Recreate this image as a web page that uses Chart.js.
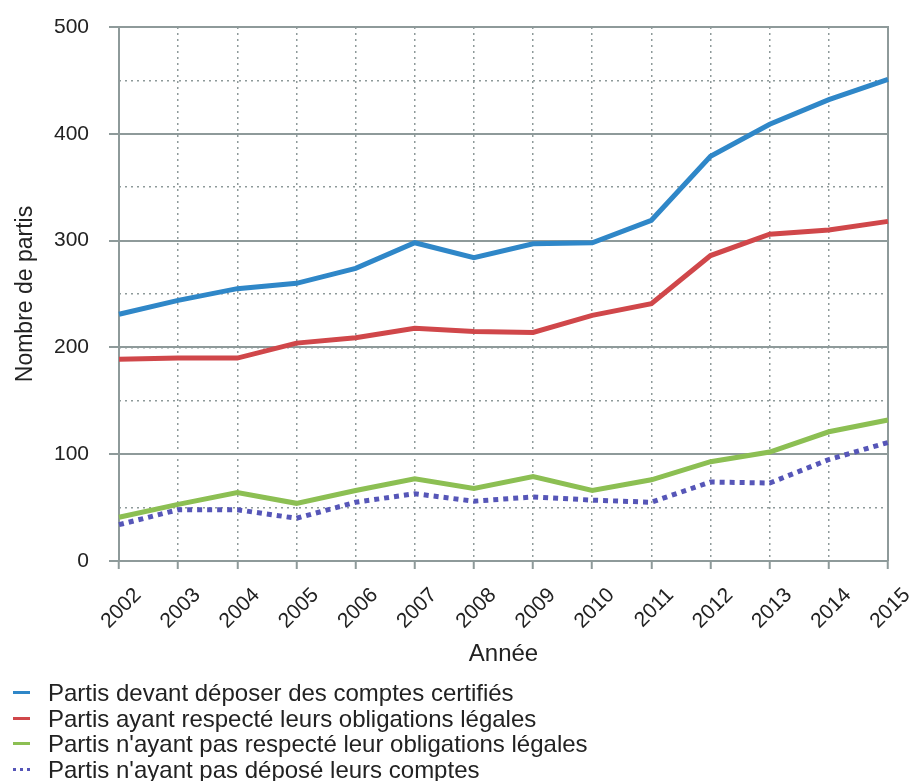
<!DOCTYPE html>
<html lang="fr">
<head>
<meta charset="UTF-8" />
<title>Nombre de partis</title>
<script src="https://cdn.jsdelivr.net/npm/chart.js"></script>
<style>
  body { margin: 0; background: #fff; font-family: "Liberation Sans", Arial, sans-serif; }
  .wrap { position: relative; width: 909px; height: 781px; overflow: hidden; }
  .chart-box { position: absolute; left: 0; top: 0; width: 909px; height: 680px; }
  #legend { position: absolute; left: 13px; top: 680px; font-size: 24px; line-height: 25.5px; color: #222; }
  #legend .item { display: flex; align-items: center; white-space: nowrap; }
  #legend .mark { width: 17px; height: 0; margin-right: 18px; border-top-width: 3px; }
</style>
</head>
<body>
<div class="wrap">
  <div class="chart-box"><canvas id="chart"></canvas></div>
  <div id="legend"></div>
</div>
<script>
  // data
  const years = ["2002", "2003", "2004", "2005", "2006", "2007", "2008", "2009", "2010", "2011", "2012", "2013", "2014", "2015"];
  const certifies = [231, 244, 255, 260, 274, 298, 284, 297, 298, 319, 379, 409, 432, 451];
  const respectes = [189, 190, 190, 204, 209, 218, 215, 214, 230, 241, 286, 306, 310, 318];
  const nonRespectes = [41, 53, 64, 54, 66, 77, 68, 79, 66, 76, 93, 102, 121, 132];
  const nonDeposes = [34, 48, 48, 40, 55, 63, 56, 60, 57, 55, 74, 73, 95, 111];

  const seriesNames = [
    "Partis devant déposer des comptes certifiés",
    "Partis ayant respecté leurs obligations légales",
    "Partis n'ayant pas respecté leur obligations légales",
    "Partis n'ayant pas déposé leurs comptes"
  ];
  const seriesColors = ["#2f87c8", "#d0474a", "#8cbf53", "#5656b8"];
  const seriesData = [certifies, respectes, nonRespectes, nonDeposes];
  const seriesDash = [[], [], [], [5, 5]];

  const gridGrey = "#8e9a9a";
  const font = "'Liberation Sans', Arial, sans-serif";

  // keep the plot area where the reference has it
  function noPad(s) {
    s.paddingLeft = 0;
    s.paddingRight = 0;
    s.paddingTop = 0;
    s.paddingBottom = 0;
  }

  const datasets = seriesData.map((d, i) => ({
    label: seriesNames[i],
    data: d,
    borderColor: seriesColors[i],
    backgroundColor: seriesColors[i],
    borderWidth: 5,
    borderDash: seriesDash[i],
    borderCapStyle: "butt",
    pointRadius: 0,
    tension: 0,
    fill: false
  }));

  new Chart(document.getElementById("chart"), {
    type: "line",
    data: { labels: years, datasets: datasets },
    options: {
      responsive: true,
      maintainAspectRatio: false,
      animation: false,
      layout: { padding: { top: 27, right: 21, left: 0, bottom: 0 } },
      plugins: { legend: { display: false }, tooltip: { enabled: false } },
      scales: {
        x: {
          type: "category",
          offset: false,
          grid: { color: gridGrey, lineWidth: 1.5, tickLength: 8, tickColor: gridGrey, tickWidth: 2 },
          border: { color: gridGrey, width: 2, dash: [2, 4] },
          ticks: {
            color: "#222",
            font: { family: font, size: 21 },
            minRotation: 45,
            maxRotation: 45,
            padding: 14,
            labelOffset: 19
          },
          title: { display: true, text: "Année", color: "#222", font: { family: font, size: 24 }, padding: { top: 0, bottom: 11 } },
          afterFit: (s) => { s.height = 119; noPad(s); }
        },
        y: {
          position: "left",
          min: 0,
          max: 500,
          ticks: { stepSize: 100, color: "#222", font: { family: font, size: 21 }, padding: 20 },
          grid: { color: gridGrey, lineWidth: 2, tickLength: 10 },
          border: { color: gridGrey, width: 2 },
          title: { display: true, text: "Nombre de partis", color: "#222", font: { family: font, size: 23 }, padding: { top: 12, bottom: 0 } },
          afterFit: (s) => { s.width = 119; noPad(s); }
        },
        y2: {
          position: "right",
          min: 0,
          max: 500,
          ticks: { stepSize: 50, display: false },
          grid: { color: gridGrey, lineWidth: 1.5, drawTicks: false },
          border: { color: gridGrey, width: 2, dash: [2, 4] },
          afterFit: (s) => { s.width = 0; noPad(s); }
        }
      }
    }
  });

  // legend below the chart, built from the series arrays
  const legend = document.getElementById("legend");
  seriesNames.forEach((name, i) => {
    const row = document.createElement("div");
    row.className = "item";
    const mark = document.createElement("span");
    mark.className = "mark";
    mark.style.borderTopStyle = seriesDash[i].length ? "dotted" : "solid";
    mark.style.borderTopColor = seriesColors[i];
    const txt = document.createElement("span");
    txt.textContent = name;
    row.appendChild(mark);
    row.appendChild(txt);
    legend.appendChild(row);
  });
</script>
</body>
</html>
